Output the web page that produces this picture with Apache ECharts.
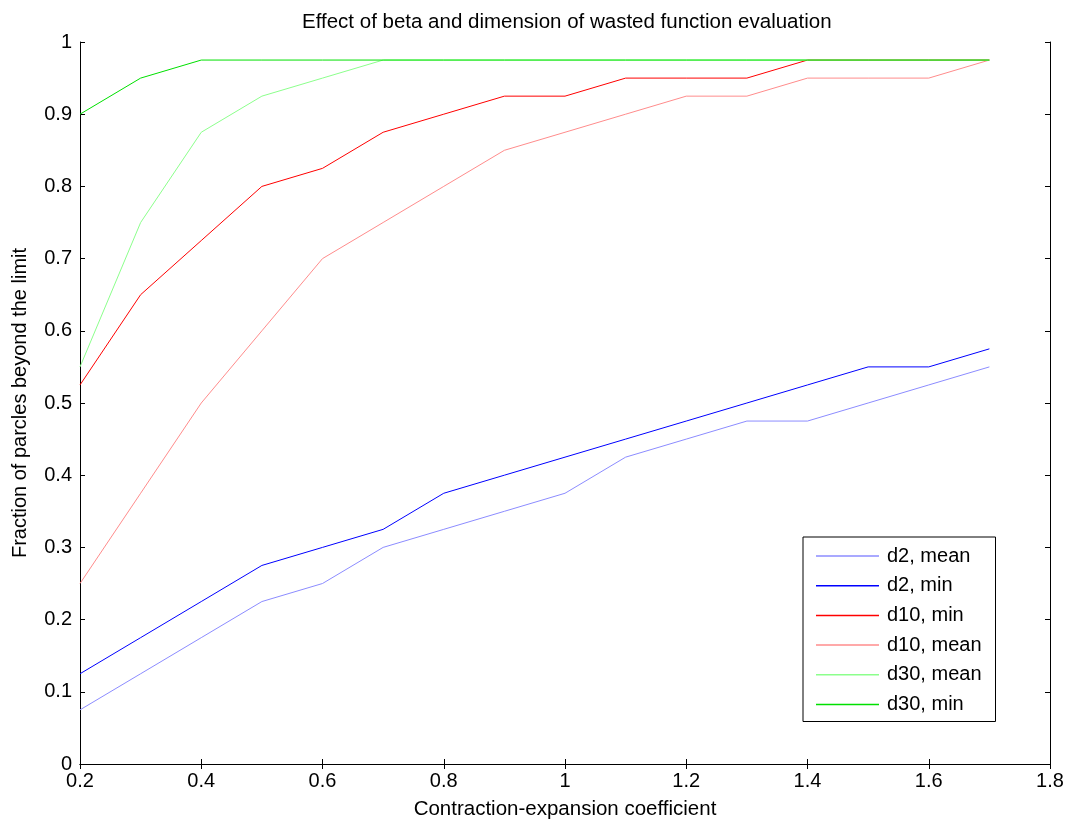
<!DOCTYPE html>
<html>
<head>
<meta charset="utf-8">
<script src="https://cdn.jsdelivr.net/npm/echarts@6/dist/echarts.min.js"></script>
<style>html,body{margin:0;padding:0;background:#fff}#c{width:1072px;height:825px}</style>
</head>
<body>
<div id="c"></div>
<script>
var coeff = [0.2,0.3,0.4,0.5,0.6,0.7,0.8,0.9,1.0,1.1,1.2,1.3,1.4,1.5,1.6,1.7];
var d2Mean  = [0.075,0.125,0.175,0.225,0.25,0.3,0.325,0.35,0.375,0.425,0.45,0.475,0.475,0.5,0.525,0.55];
var d2Min   = [0.125,0.175,0.225,0.275,0.3,0.325,0.375,0.4,0.425,0.45,0.475,0.5,0.525,0.55,0.55,0.575];
var d10Min  = [0.525,0.65,0.725,0.8,0.825,0.875,0.9,0.925,0.925,0.95,0.95,0.95,0.975,0.975,0.975,0.975];
var d10Mean = [0.25,0.375,0.5,0.6,0.7,0.75,0.8,0.85,0.875,0.9,0.925,0.925,0.95,0.95,0.95,0.975];
var d30Mean = [0.55,0.75,0.875,0.925,0.95,0.975,0.975,0.975,0.975,0.975,0.975,0.975,0.975,0.975,0.975,0.975];
var d30Min  = [0.9,0.95,0.975,0.975,0.975,0.975,0.975,0.975,0.975,0.975,0.975,0.975,0.975,0.975,0.975,0.975];
var seriesNames = ['d2, mean','d2, min','d10, min','d10, mean','d30, mean','d30, min'];
var seriesColors = ['#8c8cff','#0000ff','#ff0000','#ff8c8c','#8cff8c','#00e000'];
var seriesValues = [d2Mean,d2Min,d10Min,d10Mean,d30Mean,d30Min];

function pairs(vals){ return coeff.map(function(x,i){ return [x, vals[i]]; }); }
function fmt(v){ return String(Math.round(v*10)/10); }
var FONT = '"Liberation Sans", Arial, sans-serif';

var chart = echarts.init(document.getElementById('c'), null, {renderer:'canvas'});
var axisLine = {show:true, lineStyle:{color:'#000', width:1}};
var tickIn = {show:true, inside:true, length:5, lineStyle:{color:'#000'}};
chart.setOption({
  backgroundColor:'#fff',
  animation:false,
  title:{text:'Effect of beta and dimension of wasted function evaluation', left:297, top:7,
    textStyle:{fontFamily:FONT, fontSize:20.5, fontWeight:'normal', color:'#000'}},
  grid:{left:80, right:22, top:42, bottom:59, containLabel:false},
  legend:{orient:'vertical', left:803, top:537, data:seriesNames, icon:'rect',
    backgroundColor:'#fff', borderColor:'#000', borderWidth:1,
    padding:[9,14,7,13], itemWidth:63, itemHeight:1.5, itemGap:9.7,
    textStyle:{fontFamily:FONT, fontSize:20, lineHeight:20, color:'#000', padding:[0,0,0,3]}},
  xAxis:[
    {type:'value', min:0.2, max:1.8, interval:0.2, position:'bottom',
     name:'Contraction-expansion coefficient', nameLocation:'middle', nameGap:35,
     nameTextStyle:{fontFamily:FONT, fontSize:20.5, color:'#000'},
     axisLine:axisLine, axisTick:tickIn, splitLine:{show:false},
     axisLabel:{formatter:fmt, fontFamily:FONT, fontSize:20, color:'#000', margin:7}},
    {type:'value', min:0.2, max:1.8, interval:0.2, position:'top',
     axisLine:axisLine, axisTick:tickIn, splitLine:{show:false}, axisLabel:{show:false}}
  ],
  yAxis:[
    {type:'value', min:0, max:1, interval:0.1, position:'left',
     name:'Fraction of parcles beyond the limit', nameLocation:'middle', nameGap:50,
     nameTextStyle:{fontFamily:FONT, fontSize:20, color:'#000'},
     axisLine:axisLine, axisTick:tickIn, splitLine:{show:false},
     axisLabel:{formatter:fmt, fontFamily:FONT, fontSize:20, color:'#000', margin:8}},
    {type:'value', min:0, max:1, interval:0.1, position:'right',
     axisLine:axisLine, axisTick:tickIn, splitLine:{show:false}, axisLabel:{show:false}}
  ],
  series: seriesNames.map(function(n,i){
    return {name:n, type:'line', xAxisIndex:0, yAxisIndex:0, data:pairs(seriesValues[i]),
      symbol:'none', color:seriesColors[i], lineStyle:{width:1, color:seriesColors[i]}};
  })
});
</script>
</body>
</html>
